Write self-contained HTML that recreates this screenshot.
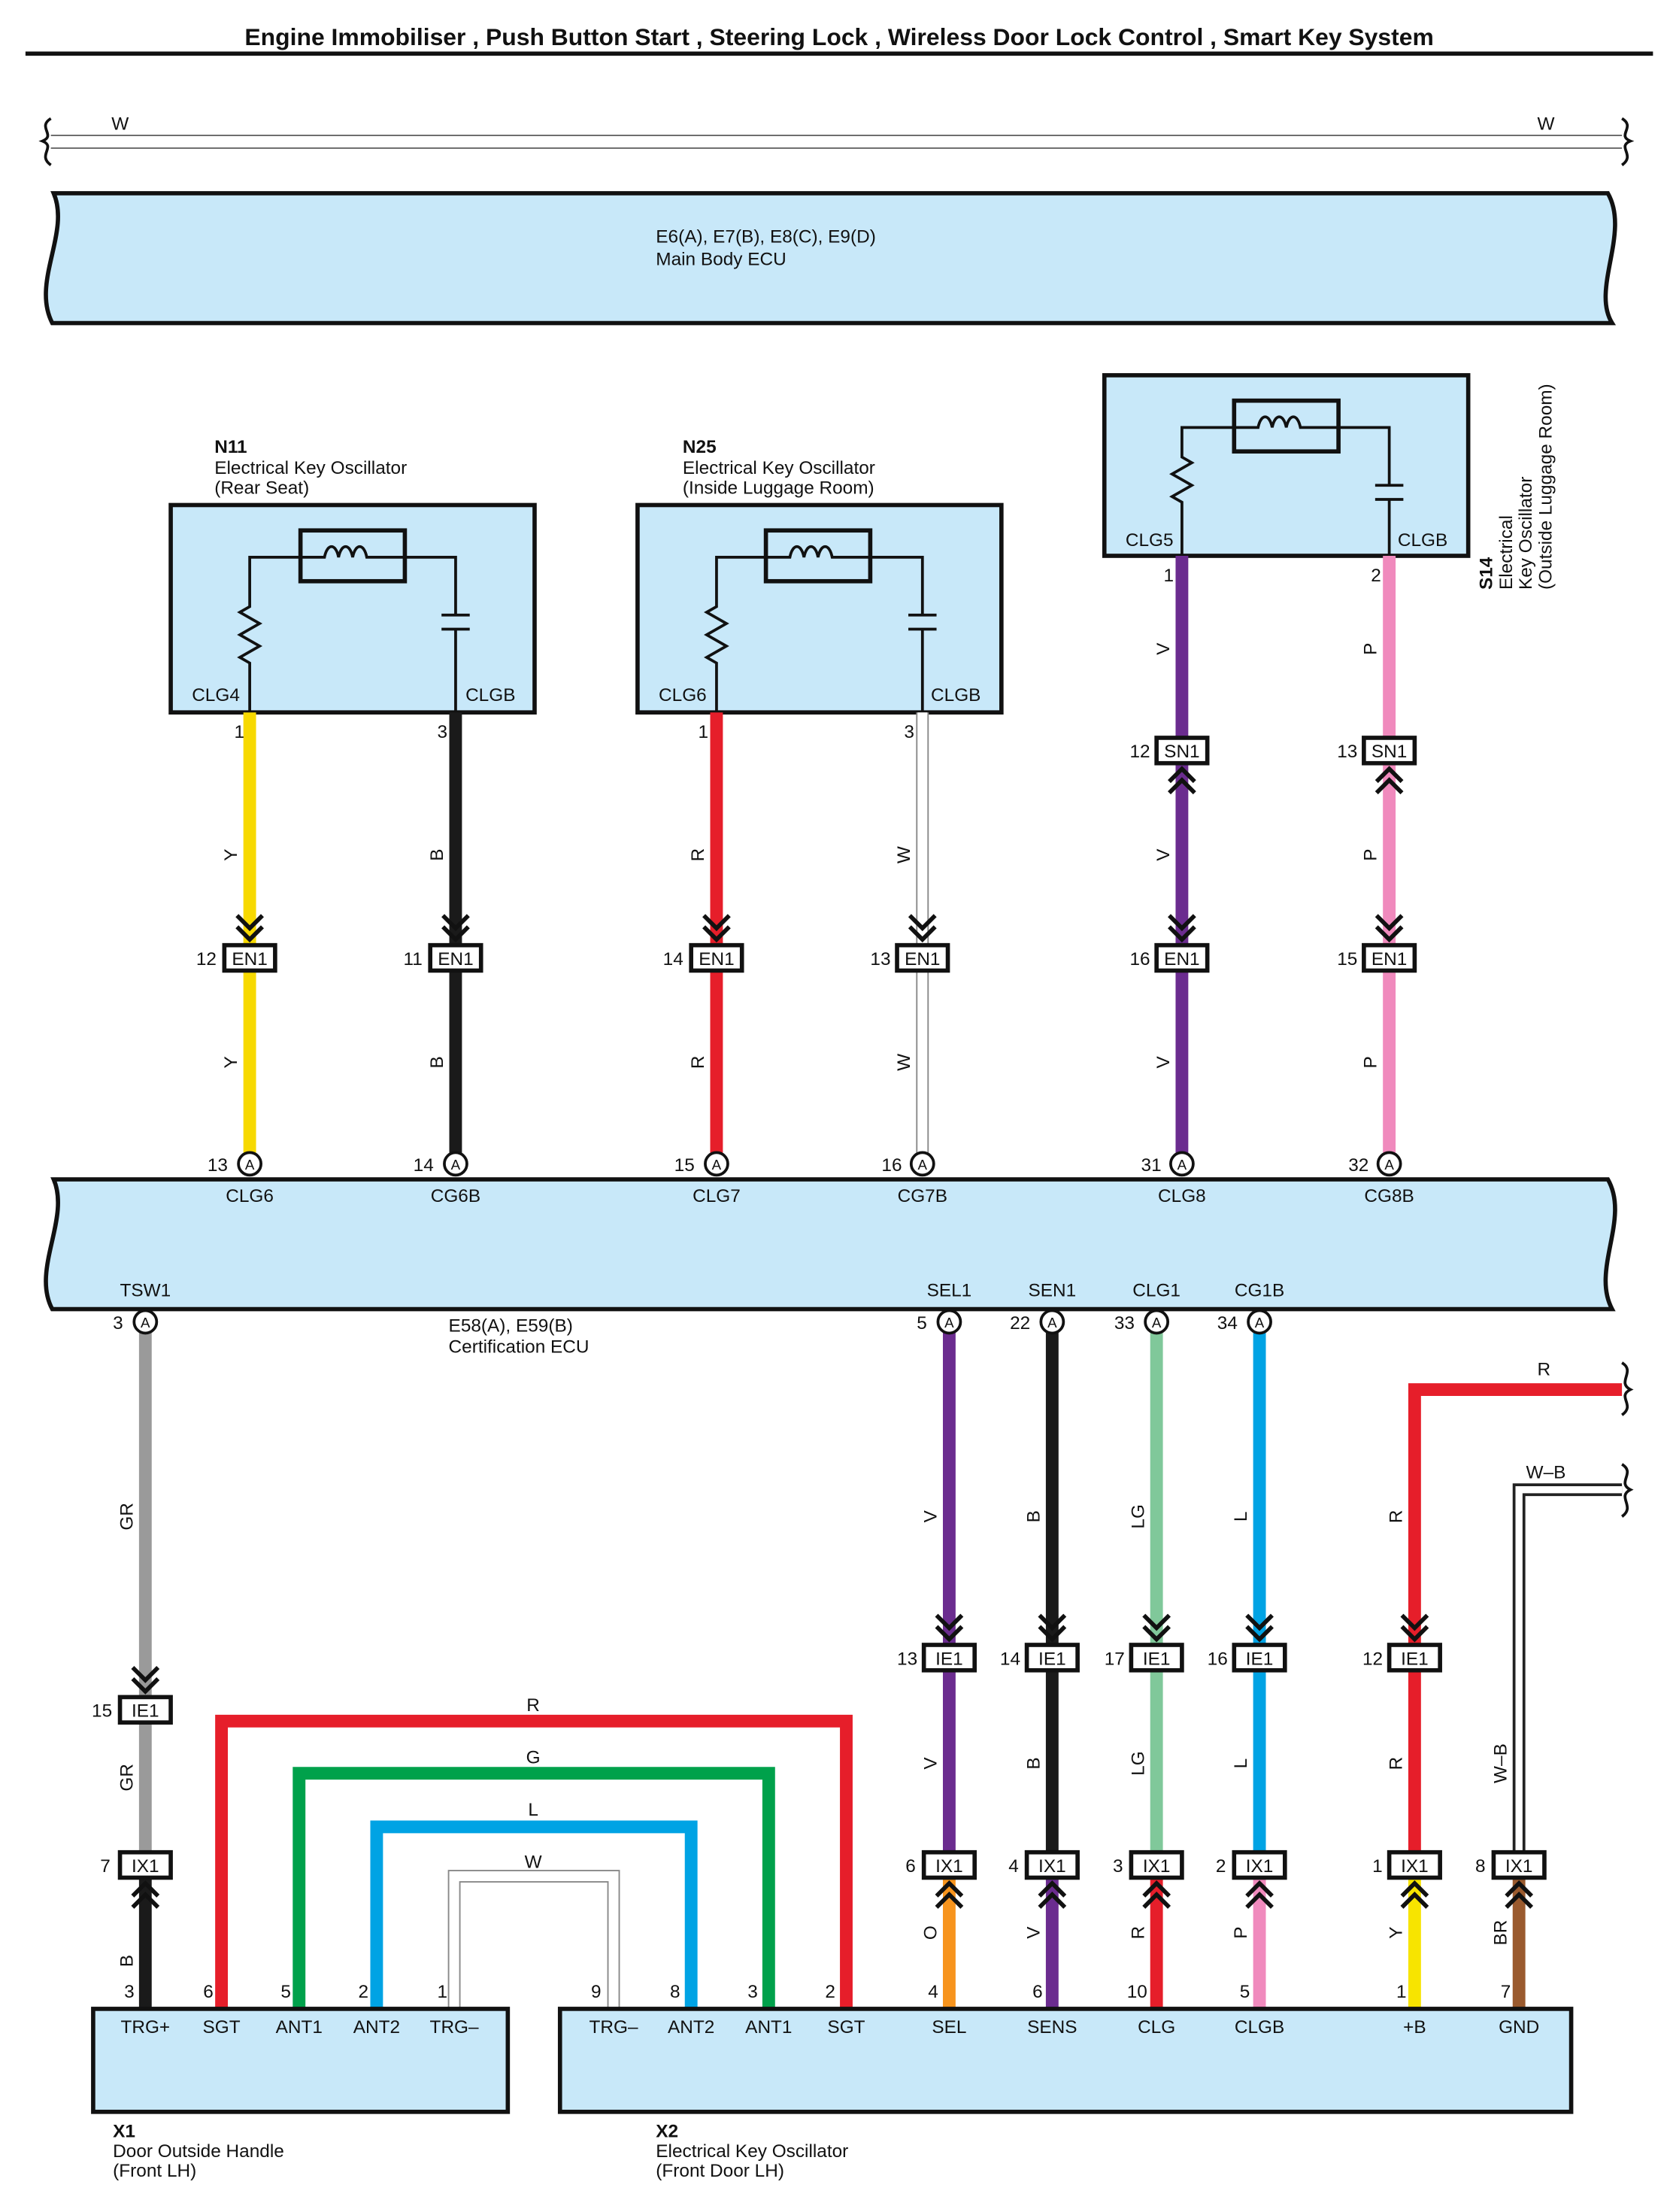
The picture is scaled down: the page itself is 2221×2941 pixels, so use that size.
<!DOCTYPE html>
<html><head><meta charset="utf-8"><style>
html,body{margin:0;padding:0;background:#fff}
svg{display:block}
text{font-family:"Liberation Sans",sans-serif;font-size:13px;fill:#111}
.b{font-weight:bold}
.ctr{text-anchor:middle}
.cn{fill:#fff;stroke:#111;stroke-width:3}
.ck{fill:none;stroke:#111;stroke-width:3}
.ecu{fill:#c8e8f9;stroke:#111;stroke-width:3}
.el{fill:none;stroke:#111;stroke-width:2}
</style></head><body>
<svg width="2221" height="2941" viewBox="0 0 1184 1568" xmlns="http://www.w3.org/2000/svg">
<defs>
<path id="chd" d="M-9,-21 L0,-12 L9,-21 M-9,-13 L0,-4 L9,-13" class="ck"/>
<path id="chu" d="M-9,21 L0,12 L9,21 M-9,13 L0,4 L9,13" class="ck"/>
</defs>
<text x="595" y="32" class="b ctr" style="font-size:17px">Engine Immobiliser , Push Button Start , Steering Lock , Wireless Door Lock Control , Smart Key System</text>
<line x1="18" y1="38" x2="1172" y2="38" stroke="#111" stroke-width="3"/>

<line x1="36" y1="96" x2="1150" y2="96" stroke="#666" stroke-width="1"/>
<line x1="36" y1="105" x2="1150" y2="105" stroke="#666" stroke-width="1"/>
<path d="M36,84 C26,90 40,96 30,100 C40,104 26,110 36,117" class="el"/>
<path d="M1150,84 C1160,90 1146,96 1156,100 C1146,104 1160,110 1150,117" class="el"/>
<text x="79" y="92">W</text><text x="1090" y="92">W</text>

<path class="ecu" d="M38,137 L1140,137 C1156,165 1128,205 1143,229 L37,229 C22,200 50,165 38,137 Z"/>
<text x="465" y="172">E6(A), E7(B), E8(C), E9(D)</text>
<text x="465" y="188">Main Body ECU</text>

<text x="152" y="321" class="b">N11</text>
<text x="152" y="336">Electrical Key Oscillator</text>
<text x="152" y="350">(Rear Seat)</text>
<rect x="121" y="358" width="258" height="147" class="ecu"/>
<rect x="213" y="376" width="74" height="36" fill="none" stroke="#111" stroke-width="3"/>
<path class="el" d="M177,505 V470 l-7,-4 14,-8 -14,-8 14,-8 -14,-8 7,-4 V395 H230 c2,-10 8,-10 10,0 c2,-10 8,-10 10,0 c2,-10 8,-10 10,0 H323 V436 M313,436 H333 M313,446 H333 M323,446 V505"/>
<text x="136" y="497">CLG4</text><text x="330" y="497">CLGB</text>
<text x="484" y="321" class="b">N25</text>
<text x="484" y="336">Electrical Key Oscillator</text>
<text x="484" y="350">(Inside Luggage Room)</text>
<rect x="452" y="358" width="258" height="147" class="ecu"/>
<rect x="543" y="376" width="74" height="36" fill="none" stroke="#111" stroke-width="3"/>
<path class="el" d="M508,505 V470 l-7,-4 14,-8 -14,-8 14,-8 -14,-8 7,-4 V395 H560 c2,-10 8,-10 10,0 c2,-10 8,-10 10,0 c2,-10 8,-10 10,0 H654 V436 M644,436 H664 M644,446 H664 M654,446 V505"/>
<text x="467" y="497">CLG6</text><text x="660" y="497">CLGB</text>
<rect x="783" y="266" width="258" height="128" class="ecu"/>
<rect x="875" y="284" width="74" height="36" fill="none" stroke="#111" stroke-width="3"/>
<path class="el" d="M838,394 V356 l-7,-4 14,-8 -14,-8 14,-8 -7,-4 V303 H892 c2,-10 8,-10 10,0 c2,-10 8,-10 10,0 c2,-10 8,-10 10,0 H985 V344 M975,344 H995 M975,354 H995 M985,354 V394"/>
<text x="798" y="387">CLG5</text><text x="991" y="387">CLGB</text>
<g transform="translate(1058,418) rotate(-90)"><text x="0" y="0" class="b">S14</text></g>
<g transform="translate(1072,418) rotate(-90)"><text x="0" y="0">Electrical</text></g>
<g transform="translate(1086,418) rotate(-90)"><text x="0" y="0">Key Oscillator</text></g>
<g transform="translate(1100,418) rotate(-90)"><text x="0" y="0">(Outside Luggage Room)</text></g>

<line x1="177" y1="505" x2="177" y2="825" stroke="#f7d900" stroke-width="9"/>
<line x1="323" y1="505" x2="323" y2="825" stroke="#1a1a1a" stroke-width="9"/>
<line x1="508" y1="505" x2="508" y2="825" stroke="#e61e2a" stroke-width="9"/>
<line x1="654" y1="505" x2="654" y2="825" stroke="#888" stroke-width="9"/>
<line x1="654" y1="505" x2="654" y2="825" stroke="#fff" stroke-width="7"/>
<line x1="838" y1="394" x2="838" y2="825" stroke="#6b2c8f" stroke-width="9"/>
<line x1="985" y1="394" x2="985" y2="825" stroke="#f08abd" stroke-width="9"/>
<text x="166" y="523">1</text><text x="310" y="523">3</text><text x="495" y="523">1</text><text x="641" y="523">3</text>
<text x="825" y="412">1</text><text x="972" y="412">2</text>
<g transform="translate(168,606) rotate(-90)"><text class="ctr">Y</text></g>
<g transform="translate(168,753) rotate(-90)"><text class="ctr">Y</text></g>
<g transform="translate(314,606) rotate(-90)"><text class="ctr">B</text></g>
<g transform="translate(314,753) rotate(-90)"><text class="ctr">B</text></g>
<g transform="translate(499,606) rotate(-90)"><text class="ctr">R</text></g>
<g transform="translate(499,753) rotate(-90)"><text class="ctr">R</text></g>
<g transform="translate(645,606) rotate(-90)"><text class="ctr">W</text></g>
<g transform="translate(645,753) rotate(-90)"><text class="ctr">W</text></g>
<g transform="translate(829,460) rotate(-90)"><text class="ctr">V</text></g>
<g transform="translate(829,606) rotate(-90)"><text class="ctr">V</text></g>
<g transform="translate(829,753) rotate(-90)"><text class="ctr">V</text></g>
<g transform="translate(976,460) rotate(-90)"><text class="ctr">P</text></g>
<g transform="translate(976,606) rotate(-90)"><text class="ctr">P</text></g>
<g transform="translate(976,753) rotate(-90)"><text class="ctr">P</text></g>
<rect x="820" y="523" width="36" height="18" class="cn"/><text x="838" y="537" class="ctr">SN1</text><text x="801" y="537">12</text>
<use href="#chu" x="838" y="541"/>
<rect x="967" y="523" width="36" height="18" class="cn"/><text x="985" y="537" class="ctr">SN1</text><text x="948" y="537">13</text>
<use href="#chu" x="985" y="541"/>
<use href="#chd" x="177" y="670"/><rect x="159" y="670" width="36" height="18" class="cn"/><text x="177" y="684" class="ctr">EN1</text><text x="139" y="684">12</text>
<use href="#chd" x="323" y="670"/><rect x="305" y="670" width="36" height="18" class="cn"/><text x="323" y="684" class="ctr">EN1</text><text x="286" y="684">11</text>
<use href="#chd" x="508" y="670"/><rect x="490" y="670" width="36" height="18" class="cn"/><text x="508" y="684" class="ctr">EN1</text><text x="470" y="684">14</text>
<use href="#chd" x="654" y="670"/><rect x="636" y="670" width="36" height="18" class="cn"/><text x="654" y="684" class="ctr">EN1</text><text x="617" y="684">13</text>
<use href="#chd" x="838" y="670"/><rect x="820" y="670" width="36" height="18" class="cn"/><text x="838" y="684" class="ctr">EN1</text><text x="801" y="684">16</text>
<use href="#chd" x="985" y="670"/><rect x="967" y="670" width="36" height="18" class="cn"/><text x="985" y="684" class="ctr">EN1</text><text x="948" y="684">15</text>

<path class="ecu" d="M38,836 L1140,836 C1156,864 1128,900 1143,928 L37,928 C22,900 50,864 38,836 Z"/>
<g>
<circle cx="177" cy="825" r="8" fill="#fff" stroke="#111" stroke-width="2"/><text x="177" y="829" class="ctr" style="font-size:10px">A</text><text x="147" y="830">13</text><text x="177" y="852" class="ctr">CLG6</text>
<circle cx="323" cy="825" r="8" fill="#fff" stroke="#111" stroke-width="2"/><text x="323" y="829" class="ctr" style="font-size:10px">A</text><text x="293" y="830">14</text><text x="323" y="852" class="ctr">CG6B</text>
<circle cx="508" cy="825" r="8" fill="#fff" stroke="#111" stroke-width="2"/><text x="508" y="829" class="ctr" style="font-size:10px">A</text><text x="478" y="830">15</text><text x="508" y="852" class="ctr">CLG7</text>
<circle cx="654" cy="825" r="8" fill="#fff" stroke="#111" stroke-width="2"/><text x="654" y="829" class="ctr" style="font-size:10px">A</text><text x="625" y="830">16</text><text x="654" y="852" class="ctr">CG7B</text>
<circle cx="838" cy="825" r="8" fill="#fff" stroke="#111" stroke-width="2"/><text x="838" y="829" class="ctr" style="font-size:10px">A</text><text x="809" y="830">31</text><text x="838" y="852" class="ctr">CLG8</text>
<circle cx="985" cy="825" r="8" fill="#fff" stroke="#111" stroke-width="2"/><text x="985" y="829" class="ctr" style="font-size:10px">A</text><text x="956" y="830">32</text><text x="985" y="852" class="ctr">CG8B</text>
</g>
<text x="103" y="919" class="ctr">TSW1</text><text x="673" y="919" class="ctr">SEL1</text><text x="746" y="919" class="ctr">SEN1</text><text x="820" y="919" class="ctr">CLG1</text><text x="893" y="919" class="ctr">CG1B</text>
<text x="318" y="944">E58(A), E59(B)</text><text x="318" y="959">Certification ECU</text>

<line x1="103" y1="937" x2="103" y2="1322" stroke="#9a9a9a" stroke-width="9"/>
<line x1="103" y1="1322" x2="103" y2="1424" stroke="#1a1a1a" stroke-width="9"/>
<line x1="673" y1="937" x2="673" y2="1322" stroke="#6b2c8f" stroke-width="9"/>
<line x1="673" y1="1322" x2="673" y2="1424" stroke="#f7941d" stroke-width="9"/>
<line x1="746" y1="937" x2="746" y2="1322" stroke="#1a1a1a" stroke-width="9"/>
<line x1="746" y1="1322" x2="746" y2="1424" stroke="#6b2c8f" stroke-width="9"/>
<line x1="820" y1="937" x2="820" y2="1322" stroke="#80c89a" stroke-width="9"/>
<line x1="820" y1="1322" x2="820" y2="1424" stroke="#e61e2a" stroke-width="9"/>
<line x1="893" y1="937" x2="893" y2="1322" stroke="#00a3e4" stroke-width="9"/>
<line x1="893" y1="1322" x2="893" y2="1424" stroke="#f08abd" stroke-width="9"/>
<path d="M1150,985 H1003 V1322" fill="none" stroke="#e61e2a" stroke-width="9"/>
<line x1="1003" y1="1322" x2="1003" y2="1424" stroke="#f7e400" stroke-width="9"/>
<path d="M1150,1056 H1077 V1322" fill="none" stroke="#222" stroke-width="9"/>
<path d="M1150,1056 H1077 V1322" fill="none" stroke="#fff" stroke-width="5"/>
<line x1="1077" y1="1322" x2="1077" y2="1424" stroke="#9a5a2e" stroke-width="9"/>
<path d="M1150,966 C1160,972 1146,980 1156,985 C1146,990 1160,996 1150,1003" class="el"/>
<path d="M1150,1038 C1160,1044 1146,1051 1156,1056 C1146,1061 1160,1068 1150,1075" class="el"/>
<text x="1090" y="975">R</text><text x="1082" y="1048">W–B</text>

<path d="M157,1424 V1220 H600 V1424" fill="none" stroke="#e61e2a" stroke-width="9"/>
<path d="M212,1424 V1257 H545 V1424" fill="none" stroke="#00a14b" stroke-width="9"/>
<path d="M267,1424 V1295 H490 V1424" fill="none" stroke="#00a3e4" stroke-width="9"/>
<path d="M322,1424 V1330 H435 V1424" fill="none" stroke="#888" stroke-width="9"/>
<path d="M322,1424 V1330 H435 V1424" fill="none" stroke="#fff" stroke-width="7"/>
<text x="378" y="1213" class="ctr">R</text><text x="378" y="1250" class="ctr">G</text><text x="378" y="1287" class="ctr">L</text><text x="378" y="1324" class="ctr">W</text>

<g>
<circle cx="103" cy="937" r="8" fill="#fff" stroke="#111" stroke-width="2"/><text x="103" y="941" class="ctr" style="font-size:10px">A</text><text x="80" y="942">3</text>
<circle cx="673" cy="937" r="8" fill="#fff" stroke="#111" stroke-width="2"/><text x="673" y="941" class="ctr" style="font-size:10px">A</text><text x="650" y="942">5</text>
<circle cx="746" cy="937" r="8" fill="#fff" stroke="#111" stroke-width="2"/><text x="746" y="941" class="ctr" style="font-size:10px">A</text><text x="716" y="942">22</text>
<circle cx="820" cy="937" r="8" fill="#fff" stroke="#111" stroke-width="2"/><text x="820" y="941" class="ctr" style="font-size:10px">A</text><text x="790" y="942">33</text>
<circle cx="893" cy="937" r="8" fill="#fff" stroke="#111" stroke-width="2"/><text x="893" y="941" class="ctr" style="font-size:10px">A</text><text x="863" y="942">34</text>
</g>
<g transform="translate(94,1075) rotate(-90)"><text class="ctr">GR</text></g>
<g transform="translate(94,1260) rotate(-90)"><text class="ctr">GR</text></g>
<g transform="translate(94,1390) rotate(-90)"><text class="ctr">B</text></g>
<g transform="translate(664,1075) rotate(-90)"><text class="ctr">V</text></g>
<g transform="translate(664,1250) rotate(-90)"><text class="ctr">V</text></g>
<g transform="translate(664,1370) rotate(-90)"><text class="ctr">O</text></g>
<g transform="translate(737,1075) rotate(-90)"><text class="ctr">B</text></g>
<g transform="translate(737,1250) rotate(-90)"><text class="ctr">B</text></g>
<g transform="translate(737,1370) rotate(-90)"><text class="ctr">V</text></g>
<g transform="translate(811,1075) rotate(-90)"><text class="ctr">LG</text></g>
<g transform="translate(811,1250) rotate(-90)"><text class="ctr">LG</text></g>
<g transform="translate(811,1370) rotate(-90)"><text class="ctr">R</text></g>
<g transform="translate(884,1075) rotate(-90)"><text class="ctr">L</text></g>
<g transform="translate(884,1250) rotate(-90)"><text class="ctr">L</text></g>
<g transform="translate(884,1370) rotate(-90)"><text class="ctr">P</text></g>
<g transform="translate(994,1075) rotate(-90)"><text class="ctr">R</text></g>
<g transform="translate(994,1250) rotate(-90)"><text class="ctr">R</text></g>
<g transform="translate(994,1370) rotate(-90)"><text class="ctr">Y</text></g>
<g transform="translate(1068,1250) rotate(-90)"><text class="ctr">W–B</text></g>
<g transform="translate(1068,1370) rotate(-90)"><text class="ctr">BR</text></g>

<use href="#chd" x="103" y="1203"/><rect x="85" y="1203" width="36" height="18" class="cn"/><text x="103" y="1217" class="ctr">IE1</text><text x="65" y="1217">15</text>
<use href="#chd" x="673" y="1166"/><rect x="655" y="1166" width="36" height="18" class="cn"/><text x="673" y="1180" class="ctr">IE1</text><text x="636" y="1180">13</text>
<use href="#chd" x="746" y="1166"/><rect x="728" y="1166" width="36" height="18" class="cn"/><text x="746" y="1180" class="ctr">IE1</text><text x="709" y="1180">14</text>
<use href="#chd" x="820" y="1166"/><rect x="802" y="1166" width="36" height="18" class="cn"/><text x="820" y="1180" class="ctr">IE1</text><text x="783" y="1180">17</text>
<use href="#chd" x="893" y="1166"/><rect x="875" y="1166" width="36" height="18" class="cn"/><text x="893" y="1180" class="ctr">IE1</text><text x="856" y="1180">16</text>
<use href="#chd" x="1003" y="1166"/><rect x="985" y="1166" width="36" height="18" class="cn"/><text x="1003" y="1180" class="ctr">IE1</text><text x="966" y="1180">12</text>
<rect x="85" y="1313" width="36" height="18" class="cn"/><text x="103" y="1327" class="ctr">IX1</text><text x="71" y="1327">7</text><use href="#chu" x="103" y="1331"/>
<rect x="655" y="1313" width="36" height="18" class="cn"/><text x="673" y="1327" class="ctr">IX1</text><text x="642" y="1327">6</text><use href="#chu" x="673" y="1331"/>
<rect x="728" y="1313" width="36" height="18" class="cn"/><text x="746" y="1327" class="ctr">IX1</text><text x="715" y="1327">4</text><use href="#chu" x="746" y="1331"/>
<rect x="802" y="1313" width="36" height="18" class="cn"/><text x="820" y="1327" class="ctr">IX1</text><text x="789" y="1327">3</text><use href="#chu" x="820" y="1331"/>
<rect x="875" y="1313" width="36" height="18" class="cn"/><text x="893" y="1327" class="ctr">IX1</text><text x="862" y="1327">2</text><use href="#chu" x="893" y="1331"/>
<rect x="985" y="1313" width="36" height="18" class="cn"/><text x="1003" y="1327" class="ctr">IX1</text><text x="973" y="1327">1</text><use href="#chu" x="1003" y="1331"/>
<rect x="1059" y="1313" width="36" height="18" class="cn"/><text x="1077" y="1327" class="ctr">IX1</text><text x="1046" y="1327">8</text><use href="#chu" x="1077" y="1331"/>

<rect x="66" y="1424" width="294" height="73" class="ecu"/>
<rect x="397" y="1424" width="717" height="73" class="ecu"/>
<g>
<text x="88" y="1416">3</text><text x="144" y="1416">6</text><text x="199" y="1416">5</text><text x="254" y="1416">2</text><text x="310" y="1416">1</text>
<text x="419" y="1416">9</text><text x="475" y="1416">8</text><text x="530" y="1416">3</text><text x="585" y="1416">2</text>
<text x="658" y="1416">4</text><text x="732" y="1416">6</text><text x="799" y="1416">10</text><text x="879" y="1416">5</text><text x="990" y="1416">1</text><text x="1064" y="1416">7</text>
</g>
<g>
<text x="103" y="1441" class="ctr">TRG+</text><text x="157" y="1441" class="ctr">SGT</text><text x="212" y="1441" class="ctr">ANT1</text><text x="267" y="1441" class="ctr">ANT2</text><text x="322" y="1441" class="ctr">TRG–</text>
<text x="435" y="1441" class="ctr">TRG–</text><text x="490" y="1441" class="ctr">ANT2</text><text x="545" y="1441" class="ctr">ANT1</text><text x="600" y="1441" class="ctr">SGT</text>
<text x="673" y="1441" class="ctr">SEL</text><text x="746" y="1441" class="ctr">SENS</text><text x="820" y="1441" class="ctr">CLG</text><text x="893" y="1441" class="ctr">CLGB</text><text x="1003" y="1441" class="ctr">+B</text><text x="1077" y="1441" class="ctr">GND</text>
</g>
<text x="80" y="1515" class="b">X1</text><text x="80" y="1529">Door Outside Handle</text><text x="80" y="1543">(Front LH)</text>
<text x="465" y="1515" class="b">X2</text><text x="465" y="1529">Electrical Key Oscillator</text><text x="465" y="1543">(Front Door LH)</text>
</svg>
</body></html>
